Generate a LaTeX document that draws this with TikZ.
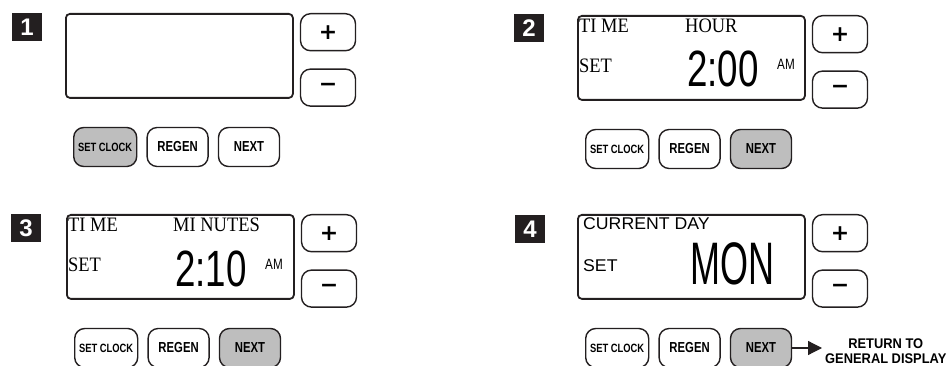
\documentclass[tikz,border=0pt]{standalone}
\usepackage{fontspec}
\setmainfont{Liberation Serif}
\setsansfont{Liberation Sans}
\newfontfamily\lcdserif[FakeStretch=0.9]{Liberation Serif}
\newfontfamily\lcdsans[FakeStretch=1.04]{Liberation Sans}
\newfontfamily\digitfont[FakeStretch=0.72]{Liberation Sans}
\newfontfamily\dayfont[FakeStretch=0.6]{Liberation Sans}
\newfontfamily\keyfont[FakeStretch=0.78]{Liberation Sans}
\newfontfamily\notefont[FakeStretch=0.92]{Liberation Sans}
\newfontfamily\signfont{DejaVu Sans}
\usetikzlibrary{arrows.meta,positioning,calc}
\definecolor{keygray}{RGB}{190,190,190}
\definecolor{ink}{RGB}{35,31,32}

\begin{document}
\begin{tikzpicture}[x=1pt,y=-1pt,
    display/.style={draw=ink,line width=1.8pt,rounded corners=4pt,minimum width=227pt,minimum height=84pt,inner sep=0pt,anchor=north west},
    pmkey/.style={draw=ink,line width=1.4pt,rounded corners=10pt,minimum width=55pt,minimum height=37pt,inner sep=0pt,font=\signfont\bfseries\fontsize{22}{22}\selectfont},
    key/.style={draw=ink,line width=1.4pt,rounded corners=10pt,minimum width=61pt,minimum height=39pt,inner sep=0pt,font=\keyfont\bfseries\fontsize{14.5}{14.5}\selectfont},
    clockkey/.style={key,minimum width=63pt,font=\keyfont\bfseries\fontsize{12}{12}\selectfont},
    badge/.style={fill=ink,text=white,minimum width=30pt,minimum height=28pt,inner sep=0pt,font=\sffamily\bfseries\fontsize{24}{24}\selectfont},
    lcd/.style={inner sep=0pt,anchor=base west,font=\lcdserif\fontsize{20.5}{20.5}\selectfont},
    lcdsans/.style={inner sep=0pt,anchor=base west,font=\lcdsans\fontsize{17}{17}\selectfont},
    digits/.style={inner sep=0pt,anchor=base west,font=\digitfont\fontsize{51}{51}\selectfont},
    ampm/.style={inner sep=0pt,anchor=base west,font=\keyfont\fontsize{15}{15}\selectfont}]
    \useasboundingbox (0,0) rectangle (951,366);
    % panel 1
    \node[badge] (num1) at (27,27) {1};
    \node[display] (disp1) at (65,13) {};
    \node[pmkey,anchor=north west] (plus1) at ([xshift=6pt]disp1.north east) {+};
    \node[pmkey,below=17pt of plus1] (minus1) {−};
    \node[clockkey,fill=keygray,anchor=north west] (clock1) at ([shift={(8,28)}]disp1.south west) {SET CLOCK};
    \node[key,right=9pt of clock1] (regen1) {REGEN};
    \node[key,right=9pt of regen1] (next1) {NEXT};
    % panel 2
    \node[badge] (num2) at (529,28) {2};
    \node[display] (disp2) at (577,15) {};
    \node[pmkey,anchor=north west] (plus2) at ([xshift=6pt]disp2.north east) {+};
    \node[pmkey,below=17pt of plus2] (minus2) {−};
    \node[clockkey,anchor=north west] (clock2) at ([shift={(8,28)}]disp2.south west) {SET CLOCK};
    \node[key,right=9pt of clock2] (regen2) {REGEN};
    \node[key,fill=keygray,right=9pt of regen2] (next2) {NEXT};
    \node[lcd] (time2) at ([shift={(2,18)}]disp2.north west) {TI ME};
    \node[lcd] (hour2) at ([shift={(108,18)}]disp2.north west) {HOUR};
    \node[lcd] (set2) at ([shift={(2,58)}]disp2.north west) {SET};
    \node[digits] (clk2) at ([shift={(110,72)}]disp2.north west) {2:00};
    \node[ampm] (am2) at ([shift={(200,55)}]disp2.north west) {AM};
    % panel 3
    \node[badge] (num3) at (26,228) {3};
    \node[display] (disp3) at (66,214) {};
    \node[pmkey,anchor=north west] (plus3) at ([xshift=6pt]disp3.north east) {+};
    \node[pmkey,below=17pt of plus3] (minus3) {−};
    \node[clockkey,anchor=north west] (clock3) at ([shift={(8,28)}]disp3.south west) {SET CLOCK};
    \node[key,right=9pt of clock3] (regen3) {REGEN};
    \node[key,fill=keygray,right=9pt of regen3] (next3) {NEXT};
    \node[lcd] (time3) at ([shift={(2,18)}]disp3.north west) {TI ME};
    \node[lcd] (mins3) at ([shift={(107,18)}]disp3.north west) {MI NUTES};
    \node[lcd] (set3) at ([shift={(2,58)}]disp3.north west) {SET};
    \node[digits] (clk3) at ([shift={(109,73)}]disp3.north west) {2:10};
    \node[ampm] (am3) at ([shift={(199,56)}]disp3.north west) {AM};
    % panel 4
    \node[badge] (num4) at (530,229) {4};
    \node[display] (disp4) at (577,214) {};
    \node[pmkey,anchor=north west] (plus4) at ([xshift=6pt]disp4.north east) {+};
    \node[pmkey,below=17pt of plus4] (minus4) {−};
    \node[clockkey,anchor=north west] (clock4) at ([shift={(8,28)}]disp4.south west) {SET CLOCK};
    \node[key,right=9pt of clock4] (regen4) {REGEN};
    \node[key,fill=keygray,right=9pt of regen4] (next4) {NEXT};
    \node[lcdsans] (day4) at ([shift={(6,16)}]disp4.north west) {CURRENT DAY};
    \node[lcdsans] (set4) at ([shift={(6,58)}]disp4.north west) {SET};
    \node[inner sep=0pt,anchor=base west,font=\dayfont\fontsize{60}{60}\selectfont] (mon4) at ([shift={(113,71)}]disp4.north west) {MON};
    \node[anchor=west,align=center,inner sep=0pt,font=\notefont\bfseries\fontsize{14}{14.5}\selectfont] (ret) at (825,351) {RETURN TO\\GENERAL DISPLAY};
    \draw[ink,line width=1.2pt,shorten >=3pt,-{Triangle[length=14pt,width=14pt]}] (next4.east) -- (ret.west |- next4.east);
  \end{tikzpicture}
\end{document}
